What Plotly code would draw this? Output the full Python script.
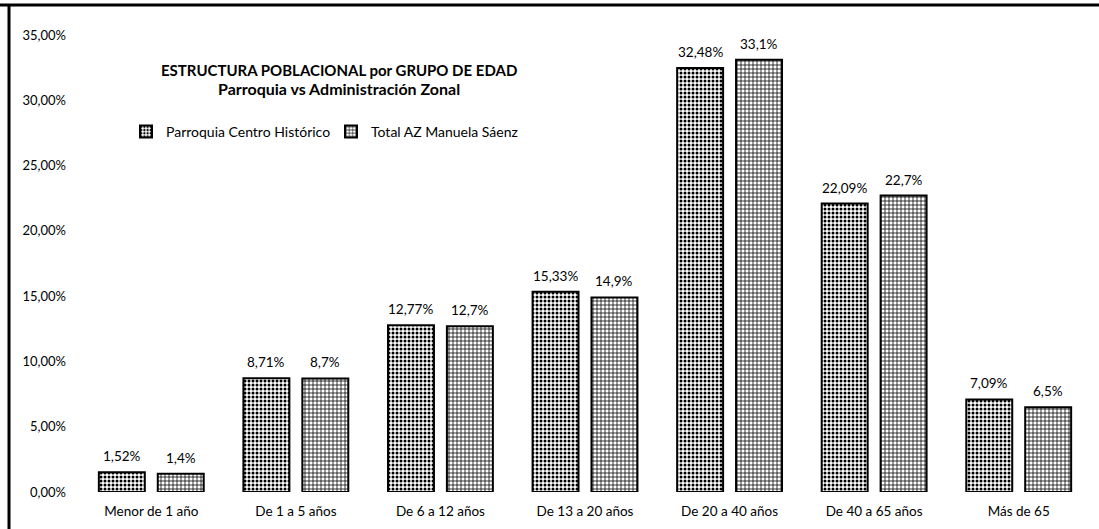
import plotly.graph_objects as go

# Age groups and population share (%) for each territory
categorias = ["Menor de 1 año", "De 1 a 5 años", "De 6 a 12 años", "De 13 a 20 años",
              "De 20 a 40 años", "De 40 a 65 años", "Más de 65"]
parroquia = [1.52, 8.71, 12.77, 15.33, 32.48, 22.09, 7.09]
total_az = [1.4, 8.7, 12.7, 14.9, 33.1, 22.7, 6.5]

serie_parroquia = "Parroquia Centro Histórico"
serie_az = "Total AZ Manuela Sáenz"

y_ticks = [0, 5, 10, 15, 20, 25, 30, 35]
y_tick_text = ["0,00%", "5,00%", "10,00%", "15,00%", "20,00%", "25,00%", "30,00%", "35,00%"]

titulo = "ESTRUCTURA POBLACIONAL por GRUPO DE EDAD"
subtitulo = "Parroquia vs Administración Zonal"

FONT = "Lato, 'Open Sans', sans-serif"
W, H = 1099, 529
L, R, T, B = 79, 8, 35, 37
plot_w = W - L - R
plot_h = H - T - B


def etiqueta_2d(v):
    return f"{v:.2f}".replace(".", ",") + "%"


def etiqueta_corta(v):
    return f"{v:g}".replace(".", ",") + "%"


fig = go.Figure()
fig.add_trace(go.Bar(
    x=categorias, y=parroquia, name=serie_parroquia,
    marker=dict(color="white", line=dict(color="black", width=2),
                pattern=dict(shape=".", fgcolor="black", bgcolor="white",
                             size=4, solidity=0.45, fillmode="replace")),
))
fig.add_trace(go.Bar(
    x=categorias, y=total_az, name=serie_az,
    marker=dict(color="white", line=dict(color="black", width=2),
                pattern=dict(shape="+", fgcolor="black", bgcolor="white",
                             size=4, solidity=0.35, fillmode="replace")),
))

bargap, bargroupgap = 0.185, 0.22
slot = plot_w / len(categorias) * (1 - bargap) / 2
offset = slot / 2

label_font = dict(family=FONT, size=13.5, color="black")
annotations = []
for cat, v in zip(categorias, parroquia):
    annotations.append(dict(x=cat, y=v, xref="x", yref="y", text=etiqueta_2d(v),
                            showarrow=False, xshift=-offset, yshift=16, yanchor="middle",
                            font=label_font))
for cat, v in zip(categorias, total_az):
    annotations.append(dict(x=cat, y=v, xref="x", yref="y", text=etiqueta_corta(v),
                            showarrow=False, xshift=offset, yshift=16, yanchor="middle",
                            font=label_font))


def px_x(px):
    return (px - L) / plot_w


def px_y(py):
    return (H - B - py) / plot_h


annotations.append(dict(x=px_x(339), y=px_y(70), xref="paper", yref="paper",
                        text=f"<b>{titulo}</b>", showarrow=False,
                        xanchor="center", yanchor="middle",
                        font=dict(family=FONT, size=15, color="black")))
annotations.append(dict(x=px_x(339), y=px_y(88), xref="paper", yref="paper",
                        text=f"<b>{subtitulo}</b>", showarrow=False,
                        xanchor="center", yanchor="middle",
                        font=dict(family=FONT, size=16, color="black")))

shapes = [
    dict(type="line", xref="paper", yref="paper", x0=px_x(0), x1=px_x(W),
         y0=px_y(5), y1=px_y(5), line=dict(color="black", width=3)),
    dict(type="line", xref="paper", yref="paper", x0=px_x(9), x1=px_x(9),
         y0=px_y(4), y1=px_y(H), line=dict(color="black", width=3)),
]

fig.update_layout(
    width=W, height=H,
    margin=dict(l=L, r=R, t=T, b=B),
    paper_bgcolor="white", plot_bgcolor="white",
    barmode="group", bargap=bargap, bargroupgap=bargroupgap,
    font=dict(family=FONT, size=13, color="black"),
    showlegend=True,
    legend=dict(orientation="h", x=px_x(126), y=px_y(132), xanchor="left", yanchor="middle",
                entrywidth=160, entrywidthmode="pixels",
                font=dict(family=FONT, size=14, color="black"),
                bgcolor="rgba(0,0,0,0)", itemwidth=30),
    annotations=annotations,
    shapes=shapes,
    xaxis=dict(showgrid=False, showline=False, zeroline=False, ticks="",
               tickfont=dict(family=FONT, size=13.5, color="black"), ticklabelstandoff=9),
    yaxis=dict(range=[0, 35], tickvals=y_ticks, ticktext=y_tick_text,
               showgrid=False, showline=False, zeroline=False, ticks="",
               tickfont=dict(family=FONT, size=13, color="black"), ticklabelstandoff=12),
)

fig.write_html("out.html")
